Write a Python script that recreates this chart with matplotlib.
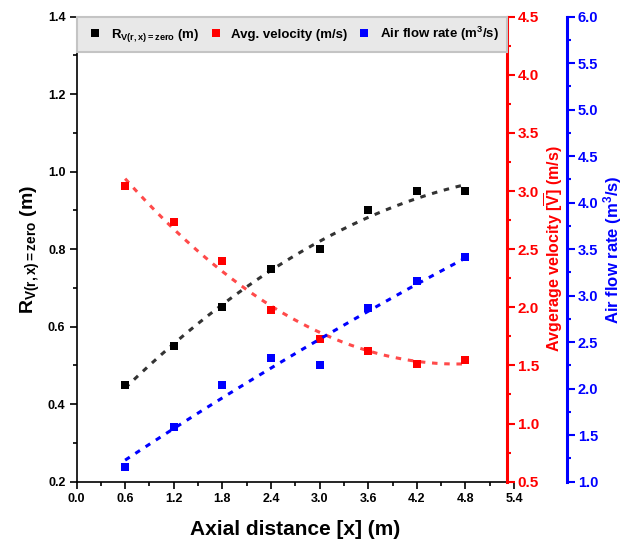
import matplotlib.pyplot as plt
import numpy as np
from matplotlib.ticker import MultipleLocator

plt.rcParams['font.family'] = ['Liberation Sans', 'DejaVu Sans']
plt.rcParams['mathtext.fontset'] = 'custom'
plt.rcParams['mathtext.rm'] = 'Liberation Sans'
plt.rcParams['mathtext.bf'] = 'Liberation Sans:bold'
plt.rcParams['mathtext.it'] = 'Liberation Sans:italic'

# axial distance and the three measured quantities
x = np.array([0.6, 1.2, 1.8, 2.4, 3.0, 3.6, 4.2, 4.8])
radius = np.array([0.45, 0.55, 0.65, 0.75, 0.80, 0.90, 0.95, 0.95])
velocity = np.array([3.04, 2.73, 2.40, 1.98, 1.73, 1.62, 1.51, 1.55])
flow = np.array([1.16, 1.59, 2.04, 2.33, 2.25, 2.87, 3.16, 3.42])

RED = '#ff0000'
BLUE = '#0000ff'

fig = plt.figure(figsize=(6.34, 5.46), dpi=100)
ax = fig.add_axes([0.1207, 0.1178, 0.6901, 0.8516])
ax2 = ax.twinx()
ax3 = ax.twinx()
ax2.spines['right'].set_position(('axes', 0.983))
ax3.spines['right'].set_position(('axes', 1.1205))

for a in (ax2, ax3):
    for s in ('left', 'top', 'bottom'):
        a.spines[s].set_visible(False)
ax.spines['right'].set_visible(False)
for s in ('left', 'top', 'bottom'):
    ax.spines[s].set_linewidth(1.2)
ax2.spines['right'].set_color(RED)
ax2.spines['right'].set_linewidth(2.2)
ax3.spines['right'].set_color(BLUE)
ax3.spines['right'].set_linewidth(2.2)

# quadratic trend lines through each series
xf = np.linspace(x[0], x[-1], 200)
dash = (0, (1.8, 2.2))
for a, y, col in ((ax, radius, '#333333'), (ax2, velocity, '#ff4a4a'), (ax3, flow, BLUE)):
    p = np.polyfit(x, y, 2)
    a.plot(xf, np.polyval(p, xf), ls=dash, lw=2.2, color=col, zorder=2)

h1, = ax.plot(x, radius, 's', ms=6, color='black', mew=0, zorder=3,
              label=r'R$_{\mathbf{V(r,x)=zero}}$ (m)')
h2, = ax2.plot(x, velocity, 's', ms=6, color=RED, mew=0, zorder=3,
               label='Avg. velocity (m/s)')
h3, = ax3.plot(x, flow, 's', ms=6, color=BLUE, mew=0, zorder=3,
               label=r'Air flow rate (m$^\mathbf{3}$/s)')

ax.set_xlim(0, 5.4)
ax.set_ylim(0.2, 1.4)
ax2.set_ylim(0.5, 4.5)
ax3.set_ylim(1.0, 6.0)

ax.xaxis.set_major_locator(MultipleLocator(0.6))
ax.xaxis.set_minor_locator(MultipleLocator(0.3))
ax.yaxis.set_major_locator(MultipleLocator(0.2))
ax.yaxis.set_minor_locator(MultipleLocator(0.1))
ax2.yaxis.set_major_locator(MultipleLocator(0.5))
ax2.yaxis.set_minor_locator(MultipleLocator(0.25))
ax3.yaxis.set_major_locator(MultipleLocator(0.5))
ax3.yaxis.set_minor_locator(MultipleLocator(0.25))

ax.tick_params(which='major', length=5, width=1.2, labelsize=9, pad=3)
ax.tick_params(which='minor', length=3, width=1.2)
for lab in ax.get_xticklabels() + ax.get_yticklabels():
    lab.set_fontweight('bold')
ax.xaxis.set_major_formatter('{x:.1f}')
ax.yaxis.set_major_formatter('{x:.1f}')

for a, col, fs in ((ax2, RED, 11), (ax3, BLUE, 10.5)):
    a.tick_params(axis='y', which='major', length=6, width=1.5, colors=col,
                  labelsize=fs, pad=2)
    a.tick_params(axis='y', which='minor', length=3, width=1.5, colors=col)
    a.yaxis.set_major_formatter('{x:.1f}')
    for lab in a.get_yticklabels():
        lab.set_fontweight('bold')

ax.set_xlabel('Axial distance [x] (m)', fontsize=15, fontweight='bold', labelpad=11)
ax.set_ylabel(r'R$_{\mathbf{V(r,x)=zero}}$ (m)', fontsize=14, fontweight='bold',
              labelpad=4)
ax2.set_ylabel(r'Avgerage velocity [$\overline{\mathbf{V}}$] (m/s)', fontsize=11.5,
               fontweight='bold', color=RED, labelpad=2)
ax3.set_ylabel(r'Air flow rate (m$^\mathbf{3}$/s)', fontsize=12, fontweight='bold',
               color=BLUE, labelpad=2)

leg = ax3.legend(handles=[h1, h2, h3], loc='upper left', ncol=3,
                 bbox_to_anchor=(0.0, 0.0, 0.983, 1.0), mode='expand',
                 borderaxespad=0, fancybox=False, framealpha=1,
                 prop={'weight': 'bold', 'size': 9.5}, handlelength=1.6,
                 handletextpad=0.4, columnspacing=1.0, borderpad=0.6,
                 markerscale=1.0)
leg.get_frame().set_facecolor('#e8e8e8')
leg.get_frame().set_edgecolor('#c4c4c4')
leg.get_frame().set_linewidth(1.5)

fig.savefig('out.png', dpi=100)
